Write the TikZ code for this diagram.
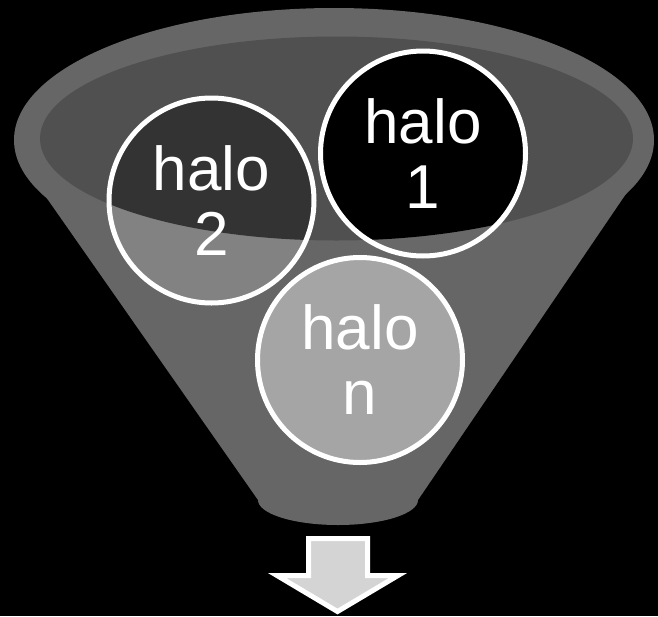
\documentclass[tikz,border=0pt]{standalone}
\usepackage{fontspec}
\setmainfont{Liberation Sans}
\definecolor{funnel}{HTML}{666666}
\definecolor{innerell}{HTML}{505050}
\definecolor{arrowfill}{HTML}{D4D4D4}
\begin{document}
\begin{tikzpicture}[x=1pt,y=-1pt,
  halo/.style={circle,draw=white,line width=5pt,inner sep=0pt,minimum size=205pt,
    text=white,align=center,font=\fontsize{62}{65}\selectfont},
  downarrow/.style={fill=arrowfill,draw=white,line width=5pt,line join=miter}]
\fill[black] (0,0) rectangle (658,616);
\useasboundingbox (0,0) rectangle (658,616);
% funnel body
\fill[funnel] (334,140) ellipse [x radius=320pt, y radius=132pt];
\fill[funnel] (18,157) -- (651,157) -- (418,500) -- (258,500) -- cycle;
\fill[funnel] (338,500) ellipse [x radius=80pt, y radius=25pt];
% inner rim
\fill[innerell] (336.5,138.5) ellipse [x radius=296.5pt, y radius=102pt];
% circle fills outside the rim
\fill[fill={rgb,255:red,130;green,130;blue,130}] (211.5,200.5) circle [radius=102.5pt];
\fill[fill={rgb,255:red,104;green,104;blue,104}] (423,153.5) circle [radius=102.5pt];
\fill[fill={rgb,255:red,165;green,165;blue,165}] (360,360) circle [radius=102.5pt];
% circle fills inside the rim
\begin{scope}
  \clip (336.5,138.5) ellipse [x radius=296.5pt, y radius=102pt];
  \fill[fill={rgb,255:red,51;green,51;blue,51}] (211.5,200.5) circle [radius=102.5pt];
  \fill[black] (423,153.5) circle [radius=102.5pt];
\end{scope}
% circles with labels
\node[halo] (h2) at (211.5,200.5) {halo\\2};
\node[halo] (h1) at (423,153.5) {halo\\1};
\node[halo] (hn) at (360,360) {halo\\n};
% output arrow
\draw[downarrow] (308.5,538.5) -- (367.5,538.5) -- (367.5,575.5) -- (398,575.5)
  -- (337.5,611.5) -- (277,575.5) -- (308.5,575.5) -- cycle;
\end{tikzpicture}
\end{document}
